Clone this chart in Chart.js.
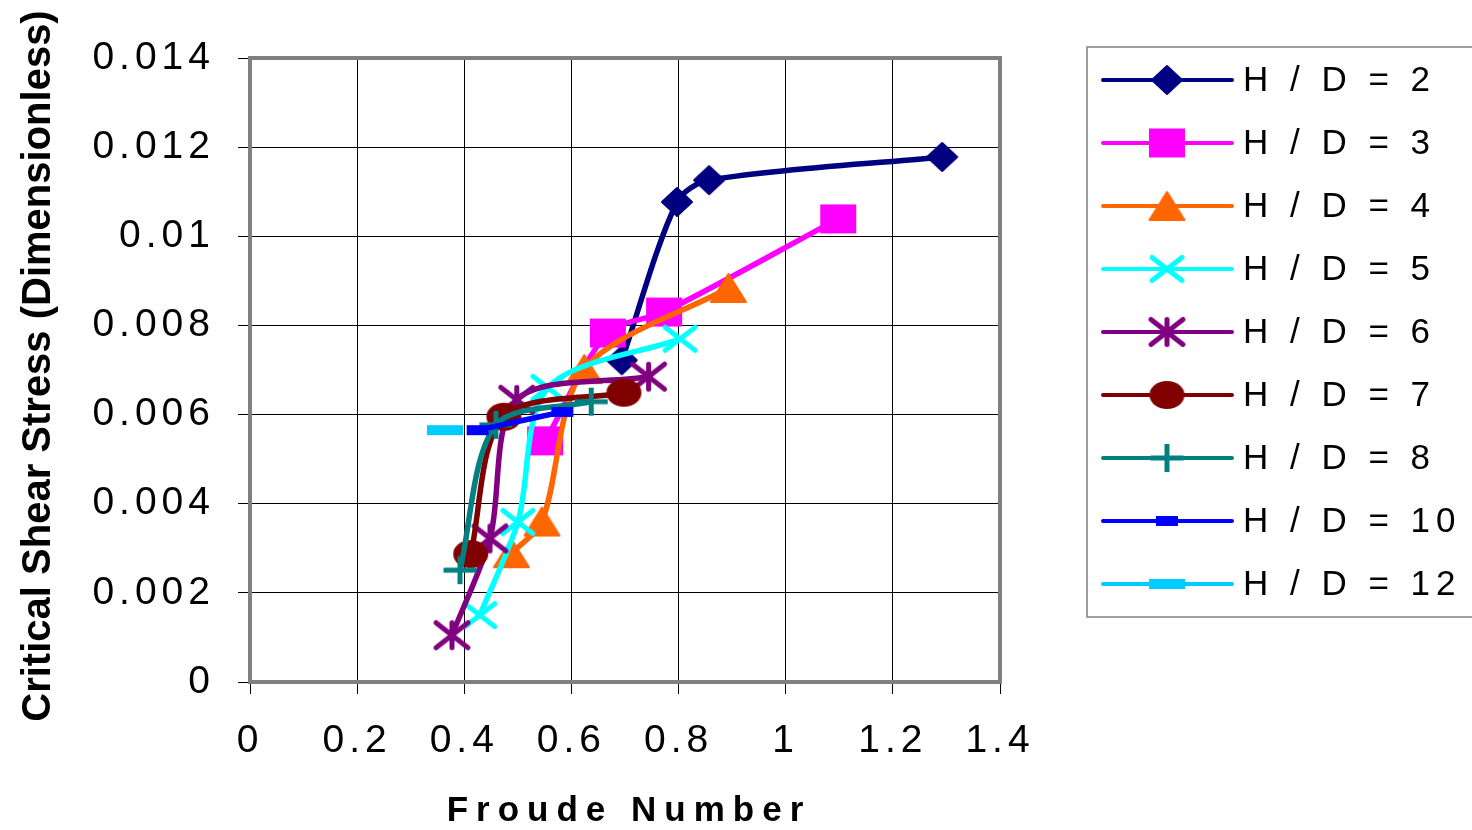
<!DOCTYPE html>
<html>
<head>
<meta charset="utf-8">
<title>Critical Shear Stress vs Froude Number</title>
<script src="https://cdn.jsdelivr.net/npm/chart.js@4.4.1/dist/chart.umd.min.js"></script>
<style>
    html, body { margin: 0; padding: 0; background: #fff; }
    canvas { display: block; }
</style>
</head>
<body>
<canvas id="shearChart" width="1472" height="830"></canvas>
<script>
// one series per H/D ratio
const seriesNames = ['H / D = 2', 'H / D = 3', 'H / D = 4', 'H / D = 5', 'H / D = 6',
    'H / D = 7', 'H / D = 8', 'H / D = 10', 'H / D = 12'];

const froude2 = [0.694, 0.797, 0.857, 1.292];
const shear2 = [0.00722, 0.01077, 0.01126, 0.01178];
const froude3 = [0.551, 0.668, 0.773, 1.098];
const shear3 = [0.00541, 0.00783, 0.00830, 0.01039];
const froude4 = [0.488, 0.545, 0.624, 0.893];
const shear4 = [0.00289, 0.00360, 0.00702, 0.00884];
const froude5 = [0.429, 0.500, 0.556, 0.803];
const shear5 = [0.00150, 0.00359, 0.00660, 0.00770];
const froude6 = [0.377, 0.448, 0.498, 0.744];
const shear6 = [0.00105, 0.00322, 0.00633, 0.00685];
const froude7 = [0.412, 0.474, 0.698];
const shear7 = [0.00287, 0.00595, 0.00649];
const froude8 = [0.392, 0.459, 0.637];
const shear8 = [0.00251, 0.00577, 0.00629];
const froude10 = [0.425, 0.583];
const shear10 = [0.00565, 0.00606];
const froude12 = [0.364];
const shear12 = [0.00565];

const xTickLabels = ['0', '0.2', '0.4', '0.6', '0.8', '1', '1.2', '1.4'];
const yTickLabels = ['0', '0.002', '0.004', '0.006', '0.008', '0.01', '0.012', '0.014'];

const seriesX = [froude2, froude3, froude4, froude5, froude6, froude7, froude8, froude10, froude12];
const seriesY = [shear2, shear3, shear4, shear5, shear6, shear7, shear8, shear10, shear12];

const seriesColors = ['#000080', '#FF00FF', '#FF6600', '#00FFFF', '#800080',
    '#800000', '#008080', '#0000FF', '#00CCFF'];
const markerShapes = ['diamond', 'square', 'triangle', 'cross', 'star', 'ellipse', 'plus', 'dash', 'dash'];
const markerSizes = [[32, 30], [36, 29], [37, 30], [35, 28], [37, 30], [35, 28], [33, 28], [22, 10], [36, 10]];

const FONT = '"Liberation Sans", Arial, sans-serif';

// marker images, drawn once and handed to Chart.js as pointStyle
const makeMarker = (shape, color, w, h) => {
    const pad = 3;
    const c = document.createElement('canvas');
    c.width = w + pad * 2;
    c.height = h + pad * 2;
    const ctx = c.getContext('2d');
    ctx.translate(pad, pad);
    ctx.fillStyle = color;
    ctx.strokeStyle = color;
    ctx.lineJoin = 'round';
    ctx.lineCap = 'round';
    const cx = w / 2, cy = h / 2;
    ctx.beginPath();
    if (shape === 'diamond') {
        ctx.moveTo(cx, 1); ctx.lineTo(w - 1, cy); ctx.lineTo(cx, h - 1); ctx.lineTo(1, cy);
        ctx.closePath(); ctx.fill(); ctx.lineWidth = 2; ctx.stroke();
    } else if (shape === 'square') {
        ctx.fillRect(0, 0, w, h);
    } else if (shape === 'triangle') {
        ctx.moveTo(cx, 1); ctx.lineTo(w - 1, h - 1); ctx.lineTo(1, h - 1);
        ctx.closePath(); ctx.fill(); ctx.lineWidth = 2; ctx.stroke();
    } else if (shape === 'ellipse') {
        ctx.ellipse(cx, cy, w / 2, h / 2, 0, 0, Math.PI * 2);
        ctx.fill();
    } else if (shape === 'dash') {
        ctx.fillRect(0, 0, w, h);
    } else {
        const lw = 5, e = lw / 2;
        ctx.lineWidth = lw;
        if (shape === 'cross' || shape === 'star') {
            ctx.moveTo(e, e); ctx.lineTo(w - e, h - e);
            ctx.moveTo(w - e, e); ctx.lineTo(e, h - e);
        }
        if (shape === 'star') {
            ctx.moveTo(cx, e); ctx.lineTo(cx, h - e);
        }
        if (shape === 'plus') {
            ctx.lineCap = 'butt';
            ctx.moveTo(0, cy); ctx.lineTo(w, cy);
            ctx.moveTo(cx, 0); ctx.lineTo(cx, h);
        }
        ctx.stroke();
    }
    return c;
};

const markers = seriesNames.map((n, i) =>
    makeMarker(markerShapes[i], seriesColors[i], markerSizes[i][0], markerSizes[i][1]));

const buildPoints = (xs, ys) => xs.map((x, i) => ({ x: x, y: ys[i] }));

const datasets = seriesNames.map((name, i) => ({
    label: name,
    data: buildPoints(seriesX[i], seriesY[i]),
    showLine: true,
    borderColor: seriesColors[i],
    backgroundColor: seriesColors[i],
    borderWidth: 5.5,
    borderCapStyle: 'round',
    borderJoinStyle: 'round',
    tension: 0.3,
    pointStyle: markers[i],
    pointRadius: 10,
    order: -i   // later series sit on top
}));

// plot frame, axis titles and the boxed legend
const chartDecor = {
    id: 'chartDecor',
    beforeDraw(chart) {
        chart.ctx.letterSpacing = '5px';
    },
    beforeDatasetsDraw(chart) {
        const { ctx, chartArea: a } = chart;
        ctx.save();
        ctx.strokeStyle = '#808080';
        ctx.lineWidth = 4;
        ctx.strokeRect(a.left, a.top, a.right - a.left, a.bottom - a.top);
        ctx.restore();
    },
    afterDraw(chart) {
        const { ctx, chartArea: a } = chart;
        ctx.save();
        ctx.fillStyle = '#000';

        ctx.font = 'bold 35px ' + FONT;
        ctx.letterSpacing = '8px';
        ctx.textAlign = 'center';
        ctx.textBaseline = 'alphabetic';
        ctx.fillText('Froude Number', (a.left + a.right) / 2 + 4, 821);

        ctx.save();
        ctx.translate(50, (a.top + a.bottom) / 2 - 4);
        ctx.rotate(-Math.PI / 2);
        ctx.font = 'bold 40px ' + FONT;
        ctx.letterSpacing = '0px';
        ctx.fillText('Critical Shear Stress (Dimensionless)', 0, 0);
        ctx.restore();

        // legend
        ctx.strokeStyle = '#808080';
        ctx.lineWidth = 1.5;
        ctx.strokeRect(1087, 47, 420, 570);
        ctx.font = '35px ' + FONT;
        ctx.letterSpacing = '6px';
        ctx.textAlign = 'left';
        ctx.textBaseline = 'middle';
        seriesNames.forEach((name, i) => {
            const y = 80 + i * 63;
            ctx.strokeStyle = seriesColors[i];
            ctx.lineWidth = 4;
            ctx.lineCap = 'round';
            ctx.beginPath();
            ctx.moveTo(1103, y);
            ctx.lineTo(1232, y);
            ctx.stroke();
            const m = markers[i];
            ctx.drawImage(m, 1167 - m.width / 2, y - m.height / 2);
            ctx.fillStyle = '#000';
            ctx.fillText(name, 1243, y + 1);
        });
        ctx.restore();
    }
};

Chart.defaults.font.family = FONT;
Chart.defaults.color = '#000';

new Chart(document.getElementById('shearChart'), {
    type: 'scatter',
    data: { datasets: datasets },
    options: {
        responsive: false,
        devicePixelRatio: 1,
        animation: false,
        events: [],
        layout: { padding: { top: 58, right: 472, left: 0, bottom: 0 } },
        plugins: {
            legend: { display: false },
            tooltip: { enabled: false }
        },
        scales: {
            x: {
                type: 'linear',
                min: 0,
                max: 1.4,
                afterFit: (s) => { s.height = 148; },
                ticks: {
                    stepSize: 0.2,
                    autoSkip: false,
                    maxRotation: 0,
                    padding: 24,
                    font: { size: 39 },
                    callback: (v, i) => xTickLabels[i]
                },
                grid: { color: '#000', lineWidth: 1, tickLength: 12, tickColor: '#000' },
                border: { display: false }
            },
            y: {
                type: 'linear',
                min: 0,
                max: 0.014,
                afterFit: (s) => { s.width = 250; },
                ticks: {
                    stepSize: 0.002,
                    autoSkip: false,
                    padding: 23,
                    font: { size: 39 },
                    callback: (v, i) => yTickLabels[i]
                },
                grid: { color: '#000', lineWidth: 1, tickLength: 12, tickColor: '#000' },
                border: { display: false }
            }
        }
    },
    plugins: [chartDecor]
});
</script>
</body>
</html>
